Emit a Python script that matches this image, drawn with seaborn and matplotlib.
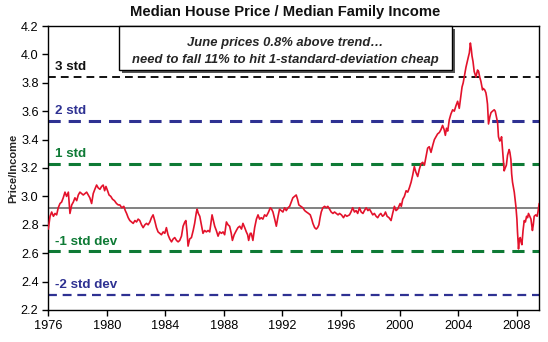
import matplotlib
matplotlib.use("Agg")
import matplotlib.pyplot as plt
import matplotlib.patches as mpatches
import numpy as np
import pandas as pd
import seaborn as sns

# Median house price / median family income, by (decimal) year
years = [
    1976.00, 1976.12, 1976.23, 1976.35, 1976.46, 1976.57, 1976.68, 1976.80, 1976.91, 1977.02,
    1977.14, 1977.25, 1977.37, 1977.48, 1977.60, 1977.71, 1977.82, 1977.94, 1978.05, 1978.16,
    1978.28, 1978.39, 1978.50, 1978.62, 1978.73, 1978.84, 1978.96, 1979.07, 1979.18, 1979.30,
    1979.41, 1979.53, 1979.64, 1979.75, 1979.85, 1979.94, 1980.05, 1980.15, 1980.27, 1980.39,
    1980.52, 1980.66, 1980.78, 1980.89, 1981.02, 1981.16, 1981.26, 1981.35, 1981.46, 1981.57,
    1981.68, 1981.80, 1981.92, 1982.03, 1982.14, 1982.25, 1982.37, 1982.48, 1982.60, 1982.71,
    1982.82, 1982.94, 1983.05, 1983.16, 1983.27, 1983.39, 1983.50, 1983.61, 1983.73, 1983.85,
    1983.96, 1984.07, 1984.18, 1984.30, 1984.42, 1984.53, 1984.64, 1984.76, 1984.87, 1984.98,
    1985.10, 1985.21, 1985.33, 1985.40, 1985.48, 1985.55, 1985.66, 1985.78, 1985.90, 1986.00,
    1986.12, 1986.17, 1986.25, 1986.35, 1986.46, 1986.57, 1986.68, 1986.80, 1986.92, 1987.03,
    1987.12, 1987.19, 1987.28, 1987.37, 1987.48, 1987.60, 1987.71, 1987.83, 1987.94, 1988.05,
    1988.17, 1988.28, 1988.39, 1988.50, 1988.58, 1988.70, 1988.85, 1988.96, 1989.08, 1989.20,
    1989.30, 1989.42, 1989.53, 1989.62, 1989.69, 1989.80, 1989.87, 1989.98, 1990.10, 1990.22,
    1990.33, 1990.44, 1990.55, 1990.66, 1990.78, 1990.90, 1991.05, 1991.17, 1991.26, 1991.35,
    1991.47, 1991.58, 1991.70, 1991.80, 1991.92, 1992.03, 1992.15, 1992.26, 1992.38, 1992.49,
    1992.60, 1992.71, 1992.83, 1992.94, 1993.03, 1993.12, 1993.25, 1993.39, 1993.52, 1993.64,
    1993.78, 1993.90, 1994.00, 1994.08, 1994.20, 1994.31, 1994.40, 1994.49, 1994.57, 1994.65,
    1994.76, 1994.88, 1995.00, 1995.10, 1995.22, 1995.33, 1995.45, 1995.56, 1995.68, 1995.80,
    1995.90, 1996.03, 1996.17, 1996.28, 1996.40, 1996.58, 1996.68, 1996.80, 1996.92, 1997.03,
    1997.14, 1997.26, 1997.38, 1997.50, 1997.60, 1997.72, 1997.84, 1997.95, 1998.06, 1998.17,
    1998.28, 1998.40, 1998.51, 1998.62, 1998.72, 1998.84, 1998.95, 1999.04, 1999.15, 1999.28,
    1999.42, 1999.53, 1999.65, 1999.76, 1999.87, 2000.04, 2000.12, 2000.22, 2000.33, 2000.45,
    2000.56, 2000.67, 2000.79, 2000.90, 2001.01, 2001.12, 2001.24, 2001.35, 2001.47, 2001.58,
    2001.70, 2001.81, 2001.92, 2002.03, 2002.15, 2002.27, 2002.38, 2002.49, 2002.60, 2002.72,
    2002.83, 2002.94, 2003.05, 2003.13, 2003.21, 2003.29, 2003.40, 2003.51, 2003.63, 2003.74,
    2003.86, 2003.97, 2004.08, 2004.18, 2004.27, 2004.35, 2004.42, 2004.54, 2004.65, 2004.72,
    2004.77, 2004.84, 2004.90, 2004.95, 2005.02, 2005.10, 2005.16, 2005.22, 2005.33, 2005.40,
    2005.48, 2005.56, 2005.67, 2005.72, 2005.82, 2005.90, 2005.95, 2006.01, 2006.08, 2006.17,
    2006.25, 2006.35, 2006.47, 2006.54, 2006.62, 2006.70, 2006.76, 2006.85, 2006.93, 2006.97,
    2007.06, 2007.15, 2007.22, 2007.30, 2007.38, 2007.49, 2007.54, 2007.61, 2007.66, 2007.72,
    2007.84, 2007.95, 2008.02, 2008.06, 2008.13, 2008.19, 2008.25, 2008.30, 2008.36, 2008.44,
    2008.52, 2008.60, 2008.68, 2008.75, 2008.81, 2008.90, 2008.98, 2009.08, 2009.14, 2009.20,
    2009.31, 2009.40, 2009.46, 2009.54,
]
ratio = [
    2.77, 2.86, 2.89, 2.86, 2.88, 2.87, 2.92, 2.95, 2.96, 2.99,
    3.03, 3.00, 3.03, 2.88, 2.94, 2.96, 2.99, 2.97, 3.01, 3.03,
    3.02, 3.01, 3.02, 3.03, 3.01, 2.99, 2.95, 3.02, 3.05, 3.08,
    3.06, 3.05, 3.07, 3.08, 3.04, 3.07, 3.04, 3.01, 3.00, 2.98,
    2.97, 2.95, 2.94, 2.94, 2.92, 2.93, 2.90, 2.88, 2.85, 2.83,
    2.82, 2.81, 2.83, 2.82, 2.84, 2.83, 2.80, 2.78, 2.80, 2.81,
    2.80, 2.82, 2.85, 2.87, 2.83, 2.78, 2.75, 2.74, 2.73, 2.75,
    2.74, 2.78, 2.73, 2.70, 2.68, 2.70, 2.71, 2.69, 2.68, 2.69,
    2.72, 2.79, 2.82, 2.83, 2.75, 2.65, 2.70, 2.71, 2.76, 2.81,
    2.89, 2.91, 2.88, 2.86, 2.80, 2.74, 2.76, 2.75, 2.76, 2.75,
    2.82, 2.87, 2.83, 2.79, 2.76, 2.72, 2.75, 2.74, 2.75, 2.73,
    2.82, 2.80, 2.79, 2.74, 2.69, 2.73, 2.76, 2.78, 2.79, 2.77,
    2.81, 2.78, 2.75, 2.73, 2.69, 2.74, 2.74, 2.69, 2.78, 2.84,
    2.87, 2.84, 2.85, 2.84, 2.87, 2.86, 2.89, 2.92, 2.91, 2.89,
    2.84, 2.79, 2.86, 2.91, 2.90, 2.89, 2.92, 2.90, 2.92, 2.93,
    2.96, 2.99, 3.00, 3.01, 2.98, 2.94, 2.93, 2.92, 2.90, 2.89,
    2.88, 2.87, 2.84, 2.81, 2.78, 2.77, 2.78, 2.80, 2.85, 2.89,
    2.92, 2.93, 2.92, 2.93, 2.91, 2.89, 2.88, 2.89, 2.88, 2.87,
    2.88, 2.87, 2.85, 2.87, 2.86, 2.87, 2.89, 2.92, 2.89, 2.90,
    2.88, 2.92, 2.89, 2.88, 2.90, 2.92, 2.90, 2.91, 2.89, 2.87,
    2.88, 2.86, 2.85, 2.87, 2.88, 2.86, 2.87, 2.89, 2.86, 2.85,
    2.83, 2.88, 2.93, 2.90, 2.91, 2.95, 2.93, 2.98, 3.00, 3.04,
    3.03, 3.06, 3.10, 3.15, 3.21, 3.17, 3.14, 3.19, 3.23, 3.24,
    3.22, 3.28, 3.34, 3.35, 3.31, 3.36, 3.40, 3.42, 3.44, 3.45,
    3.47, 3.50, 3.47, 3.43, 3.48, 3.46, 3.54, 3.58, 3.61, 3.60,
    3.64, 3.67, 3.62, 3.70, 3.77, 3.80, 3.84, 3.91, 3.96, 3.99,
    4.01, 4.08, 4.04, 3.99, 3.95, 3.88, 3.86, 3.84, 3.89, 3.88,
    3.84, 3.81, 3.75, 3.76, 3.75, 3.73, 3.70, 3.65, 3.51, 3.56,
    3.59, 3.60, 3.61, 3.60, 3.56, 3.52, 3.42, 3.39, 3.40, 3.42,
    3.30, 3.18, 3.20, 3.22, 3.29, 3.33, 3.31, 3.26, 3.16, 3.10,
    3.03, 2.93, 2.84, 2.75, 2.63, 2.70, 2.71, 2.68, 2.66, 2.76,
    2.83, 2.82, 2.86, 2.85, 2.88, 2.86, 2.84, 2.76, 2.80, 2.86,
    2.87, 2.86, 2.89, 2.95,
]

# Long-run mean and standard-deviation bands
mean_level = 2.918
band_levels = [3.843, 3.533, 3.226, 2.612, 2.308]
band_labels = ["3 std", "2 std", "1 std", "-1 std dev", "-2 std dev"]
band_colors = ["#111111", "#2E3192", "#0E7A35", "#0E7A35", "#2E3192"]
band_widths = [1.4, 2.2, 2.2, 2.2, 1.6]

x_ticks = [1976, 1980, 1984, 1988, 1992, 1996, 2000, 2004, 2008]
y_ticks = [2.2, 2.4, 2.6, 2.8, 3.0, 3.2, 3.4, 3.6, 3.8, 4.0, 4.2]

title = "Median House Price / Median Family Income"
note_lines = ["June prices 0.8% above trend\u2026",
              "need to fall 11% to hit 1-standard-deviation cheap"]

sns.set_theme(style="ticks")
plt.rcParams["font.family"] = ["Liberation Sans", "DejaVu Sans"]

fig = plt.figure(figsize=(5.48, 3.42), dpi=100)
ax = fig.add_axes([48.3 / 548, 1 - 310 / 342, (539.3 - 48.3) / 548, (310 - 26) / 342])

df = pd.DataFrame({"year": years, "ratio": ratio})

ax.axhline(mean_level, color="#777777", lw=1.3, zorder=2)
for lvl, col, lw in zip(band_levels, band_colors, band_widths):
    ax.axhline(lvl, color=col, lw=lw, ls=(0, (4, 2.6)), zorder=2)

sns.lineplot(data=df, x="year", y="ratio", ax=ax, color="#E3122B", lw=1.2, zorder=3)

for lvl, lab, col in zip(band_levels, band_labels, band_colors):
    ax.text(1976.45, lvl + 0.07, lab, color=col, fontsize=9.6, fontweight="bold",
            va="center", ha="left", zorder=4)

ax.set_xlim(1976, 2009.55)
ax.set_ylim(2.2, 4.2)
ax.set_xticks(x_ticks)
ax.set_xticklabels([str(t) for t in x_ticks])
ax.set_yticks(y_ticks)
ax.set_yticklabels([f"{t:.1f}" for t in y_ticks])
ax.tick_params(axis="both", labelsize=9.2, length=4, width=1, color="black", labelcolor="black", pad=3)
ax.set_xlabel("")
ax.set_ylabel("Price/Income", fontsize=8, fontweight="bold", labelpad=2)
for s in ax.spines.values():
    s.set_visible(True)
    s.set_color("black")
    s.set_linewidth(1.0)

fig.text(285.5 / 548, 1 - 12 / 342, title, ha="center", va="center",
         fontsize=10.6, fontweight="bold", color="#111111")

# Annotation box with drop shadow
bx0, bx1, by0, by1 = 119 / 548, 452 / 548, 1 - 70 / 342, 1 - 26 / 342
shadow = mpatches.Rectangle((bx0 + 3 / 548, by0 - 3 / 342), bx1 - bx0, by1 - by0,
                            transform=fig.transFigure, facecolor="#555555",
                            edgecolor="none", zorder=5)
box = mpatches.Rectangle((bx0, by0), bx1 - bx0, by1 - by0, transform=fig.transFigure,
                         facecolor="white", edgecolor="black", lw=1.0, zorder=6)
fig.add_artist(shadow)
fig.add_artist(box)
cx = (bx0 + bx1) / 2
fig.text(cx, 1 - 43 / 342, note_lines[0], ha="center", va="center", fontsize=9.4,
         fontweight="bold", fontstyle="italic", zorder=7)
fig.text(cx, 1 - 60 / 342, note_lines[1], ha="center", va="center", fontsize=9.4,
         fontweight="bold", fontstyle="italic", zorder=7)

fig.savefig("out.png", dpi=100)
